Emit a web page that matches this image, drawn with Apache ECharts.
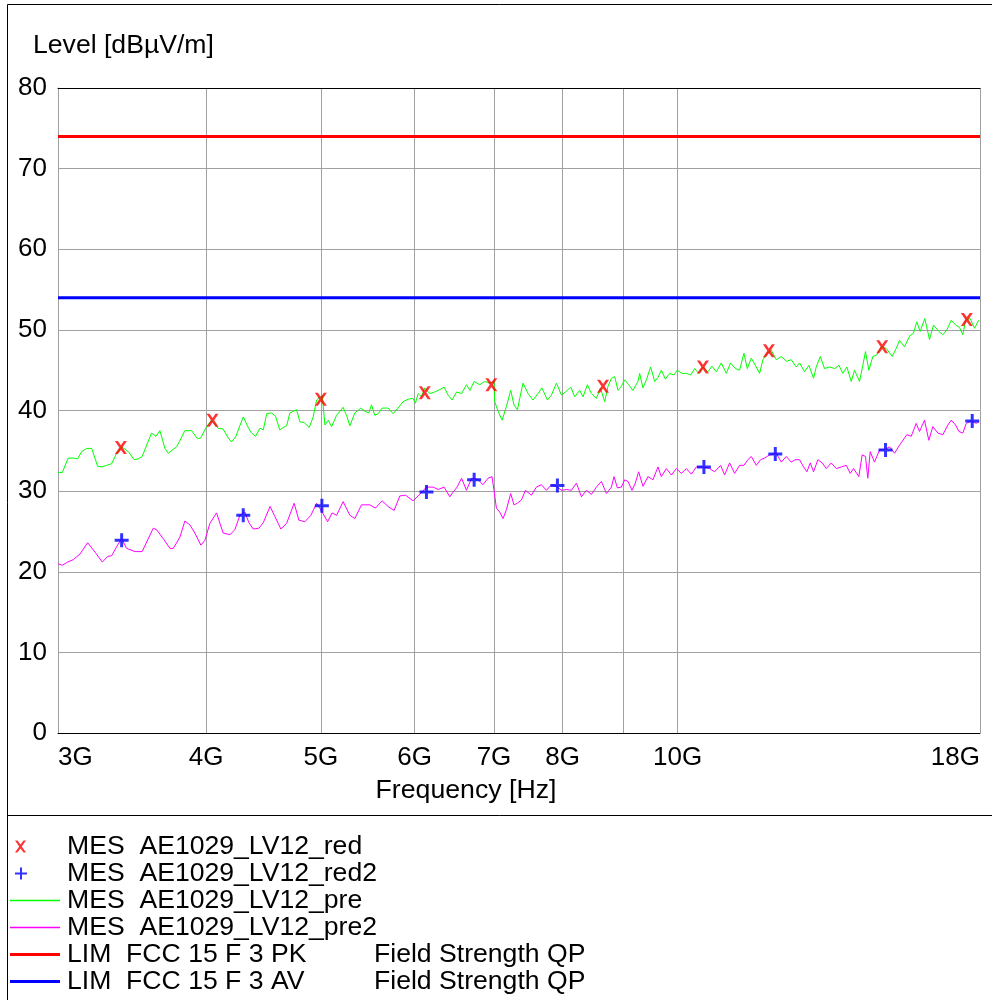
<!DOCTYPE html>
<html><head><meta charset="utf-8">
<script src="https://cdn.jsdelivr.net/npm/echarts@6/dist/echarts.min.js"></script>
<style>html,body{margin:0;padding:0;background:#fff}#c{width:992px;height:1000px}</style>
</head><body><div id="c"></div>
<script>
// ---- data (frequency in GHz, level in dBµV/m) ----
const seriesNames = ['MES  AE1029_LV12_red', 'MES  AE1029_LV12_red2', 'MES  AE1029_LV12_pre', 'MES  AE1029_LV12_pre2', 'LIM  FCC 15 F 3 PK', 'LIM  FCC 15 F 3 AV'];
const limitNote = 'Field Strength QP';
const xTickValues = [3, 4, 5, 6, 7, 8, 9, 10, 18];
const xLabelValues = [3, 4, 5, 6, 7, 8, 10, 18];
const yTickStep = 10;

const redFreq  = [3.39, 4.051, 5.00, 6.119, 6.964, 8.652, 10.506, 11.943, 14.885, 17.545];
const redLevel = [35.4, 38.8, 41.4, 42.2, 43.2, 43.0, 45.4, 47.4, 47.9, 51.3];

const blueFreq  = [3.395, 4.300, 5.01, 6.139, 6.735, 7.918, 10.526, 12.092, 14.981, 17.730];
const blueLevel = [23.9, 27.0, 28.2, 29.9, 31.4, 30.7, 33.0, 34.6, 35.1, 38.7];

const greenFreq = [3.00,3.025,3.06,3.09,3.117,3.141,3.172,3.203,3.240,3.266,3.298,3.330,3.362,3.395,3.439,3.479,3.506,3.533,3.598,3.629,3.657,3.693,3.716,3.778,3.839,3.889,3.935,3.960,4.004,4.043,4.095,4.135,4.176,4.203,4.236,4.300,4.342,4.370,4.404,4.442,4.471,4.500,4.543,4.578,4.617,4.647,4.678,4.708,4.770,4.800,4.840,4.888,4.926,4.959,5.013,5.040,5.072,5.105,5.155,5.221,5.256,5.290,5.341,5.404,5.446,5.488,5.517,5.553,5.589,5.632,5.698,5.754,5.810,5.867,5.924,5.981,6.009,6.040,6.080,6.119,6.179,6.239,6.300,6.353,6.403,6.454,6.509,6.573,6.635,6.680,6.735,6.809,6.875,6.942,7.000,7.009,7.065,7.111,7.171,7.231,7.277,7.326,7.359,7.406,7.479,7.552,7.625,7.684,7.766,7.826,7.903,7.981,8.042,8.126,8.189,8.269,8.322,8.393,8.459,8.541,8.608,8.680,8.736,8.794,8.850,8.907,8.966,9.024,9.094,9.170,9.260,9.290,9.350,9.412,9.491,9.565,9.627,9.690,9.766,9.848,9.930,9.996,10.086,10.173,10.259,10.339,10.419,10.506,10.608,10.691,10.783,10.888,10.994,11.086,11.188,11.282,11.377,11.452,11.541,11.654,11.729,11.804,11.906,11.998,12.115,12.234,12.353,12.473,12.595,12.676,12.800,12.907,13.025,13.093,13.197,13.306,13.437,13.568,13.683,13.789,13.896,14.015,14.105,14.242,14.334,14.409,14.503,14.616,14.730,14.856,15.001,15.177,15.296,15.394,15.543,15.695,15.817,15.919,16.024,16.169,16.318,16.445,16.617,16.747,16.878,17.022,17.166,17.298,17.410,17.501,17.661,17.808,17.957];
const greenLevel = [32.3,32.3,34.1,34.1,34.0,34.9,35.3,35.3,33.1,33.0,33.2,33.4,34.7,35.5,34.9,33.9,34.0,34.3,37.2,36.8,37.5,35.3,34.7,35.5,37.5,37.5,36.5,36.6,38.0,38.8,37.8,37.7,36.6,36.1,36.7,39.2,37.9,37.2,36.8,37.8,37.6,39.6,39.7,39.3,37.6,37.9,38.1,39.7,40.1,38.6,38.5,37.9,39.2,41.3,41.9,38.2,38.8,38.0,39.4,40.4,39.4,38.1,39.7,40.3,39.9,39.7,40.7,39.4,39.6,40.3,40.3,39.6,40.3,41.1,41.4,41.5,40.9,42.1,41.7,42.8,42.1,42.3,42.6,42.9,41.9,41.3,42.3,42.1,43.2,42.5,43.6,43.2,43.6,43.4,43.6,41.1,39.7,38.8,40.5,42.5,40.7,40.1,41.5,43.4,42.1,41.3,42.1,42.8,41.3,41.9,43.4,41.9,42.3,42.9,41.7,42.5,41.7,43.2,42.1,41.5,42.8,41.1,43.0,44.0,44.2,42.5,43.0,43.8,43.2,42.5,43.6,44.6,42.8,43.8,45.4,43.6,44.1,45.0,43.9,44.6,44.4,45.0,44.6,44.6,44.4,45.2,44.6,45.4,44.8,45.5,44.8,45.9,44.6,45.9,45.2,45.0,47.1,45.2,46.5,45.4,44.6,46.3,47.1,47.5,46.3,46.7,46.1,46.3,45.4,45.9,44.8,45.6,44.0,45.4,46.7,45.2,45.4,45.2,45.6,44.6,45.4,43.6,45.0,43.6,45.6,47.3,45.0,46.7,46.9,47.9,47.7,46.7,47.7,48.7,47.9,49.2,49.6,51.0,49.8,51.4,48.8,50.6,49.8,49.4,50.0,51.2,50.6,50.3,49.4,51.2,51.4,50.2,51.2];

const magentaFreq = [3.00,3.025,3.057,3.090,3.131,3.178,3.225,3.270,3.304,3.330,3.362,3.395,3.428,3.484,3.533,3.610,3.634,3.681,3.729,3.754,3.802,3.839,3.877,3.914,3.960,3.991,4.030,4.083,4.135,4.190,4.230,4.272,4.314,4.347,4.384,4.433,4.471,4.530,4.568,4.626,4.678,4.747,4.791,4.847,4.904,4.959,5.013,5.066,5.111,5.155,5.221,5.290,5.341,5.411,5.499,5.560,5.632,5.698,5.765,5.829,5.894,5.981,6.060,6.139,6.219,6.280,6.353,6.424,6.466,6.509,6.573,6.635,6.702,6.787,6.852,6.919,6.973,7.000,7.033,7.078,7.125,7.171,7.231,7.277,7.326,7.383,7.441,7.528,7.601,7.675,7.750,7.826,7.903,7.981,8.059,8.137,8.216,8.296,8.377,8.459,8.541,8.625,8.709,8.794,8.839,8.897,8.966,9.024,9.082,9.153,9.213,9.272,9.350,9.441,9.533,9.627,9.690,9.785,9.881,9.977,10.074,10.173,10.272,10.372,10.506,10.643,10.747,10.873,10.958,11.065,11.173,11.282,11.377,11.466,11.541,11.654,11.752,11.843,11.959,12.115,12.234,12.353,12.473,12.570,12.676,12.775,12.858,12.942,13.025,13.136,13.248,13.351,13.481,13.613,13.746,13.880,13.988,14.078,14.223,14.317,14.409,14.474,14.541,14.664,14.807,14.981,15.098,15.246,15.394,15.614,15.748,15.901,16.004,16.160,16.296,16.423,16.584,16.747,16.911,17.022,17.166,17.276,17.410,17.525,17.695,17.868,17.957];
const magentaLevel = [21.0,20.8,21.2,21.5,22.2,23.6,22.4,21.2,21.9,22.0,23.1,24.1,22.9,22.5,22.5,25.4,25.2,24.1,22.9,22.9,24.3,26.3,25.8,24.8,23.3,23.9,26.0,27.3,24.8,24.6,25.2,27.0,27.4,26.1,25.3,25.4,26.1,28.1,27.0,25.3,26.0,28.5,26.4,26.2,27.0,28.5,27.4,26.2,27.3,27.0,28.7,27.0,26.6,28.3,28.3,27.9,28.8,28.1,27.6,29.4,29.5,28.8,29.6,30.5,30.5,30.2,30.5,29.3,29.9,30.4,31.6,30.1,31.6,31.4,30.8,31.6,31.8,30.1,27.9,27.4,26.6,27.7,29.7,28.3,28.5,28.9,30.1,29.5,30.5,30.8,30.1,30.8,30.6,30.1,30.2,30.1,31.0,29.3,30.1,29.6,30.5,31.2,29.7,30.5,31.8,30.4,30.5,31.4,31.2,30.1,31.0,32.4,30.6,31.8,31.4,33.0,31.8,32.8,32.0,32.8,32.2,32.8,32.1,33.0,33.0,32.8,32.4,33.2,32.0,33.5,32.2,33.2,33.2,33.9,34.3,33.2,33.9,34.1,34.5,34.7,33.6,34.3,33.6,33.9,33.9,33.0,32.4,33.5,32.4,33.9,33.5,32.8,33.5,32.8,33.0,33.2,32.2,32.8,31.8,34.5,34.3,31.6,34.9,33.6,35.1,35.2,35.5,34.7,35.7,37.0,36.8,38.4,37.4,38.8,36.3,38.0,37.2,37.0,38.2,38.8,38.2,37.4,37.2,38.4,38.7,38.4,38.6];

const limitFreq = [3, 18];
const pkLevel = [74, 74];
const avLevel = [54, 54];

// ---- helpers ----
const zip = (xs, ys) => xs.map((x, i) => [x, ys[i]]);
const FONT = '"Liberation Sans", Arial, Helvetica, sans-serif';
const GRID = '#a0a0a0';

const xSym = 'path://M0,0 L3,0 L6,4.2 L9,0 L12,0 L7.6,6.5 L12,13 L9,13 L6,8.8 L3,13 L0,13 L4.4,6.5 Z';
const plusSym = 'path://M0,5.5 L14,5.5 L14,8.5 L0,8.5 Z M5.5,0 L8.5,0 L8.5,14 L5.5,14 Z';
const xLegendIcon = 'path://M0,0 L0,0 Z M50,14 L50,14 Z M5,1 L7.5,1 L10.5,5 L13.5,1 L16,1 L11.8,7 L16,13 L13.5,13 L10.5,9 L7.5,13 L5,13 L9.2,7 Z';
const plusLegendIcon = 'path://M0,0 L0,0 Z M50,14 L50,14 Z M5,6 L17,6 L17,8 L5,8 Z M10,1 L12,1 L12,13 L10,13 Z';
const thinLineIcon = 'path://M0,0 L50,0 L50,1.4 L0,1.4 Z';
const thickLineIcon = 'path://M0,0 L50,0 L50,3 L0,3 Z';

const LEG_FS = 26.6;
const chart = echarts.init(document.getElementById('c'), null, {renderer: 'canvas'});
chart.setOption({
  animation: false,
  backgroundColor: '#fff',
  textStyle: {fontFamily: FONT},
  title: {
    text: 'Level [dBµV/m]', left: 33, top: 32, padding: 0,
    textStyle: {fontFamily: FONT, fontSize: 26.6, fontWeight: 'normal', color: '#000'}
  },
  grid: {left: 58, top: 88, width: 922, height: 645, containLabel: false},
  xAxis: [{
    type: 'log', logBase: 10, min: 3, max: 18,
    name: 'Frequency [Hz]', nameLocation: 'middle', nameGap: 44,
    nameTextStyle: {fontFamily: FONT, fontSize: 26.7, color: '#000', padding: [0, 106, 0, 0]},
    axisLine: {show: true, lineStyle: {color: '#000', width: 1}},
    axisTick: {show: false, customValues: xTickValues},
    axisLabel: {
      customValues: xLabelValues, formatter: v => Math.round(v) + 'G',
      fontFamily: FONT, fontSize: 26, color: '#000', margin: 12,
      showMinLabel: true, showMaxLabel: true, alignMinLabel: 'left', alignMaxLabel: 'right'
    },
    splitLine: {show: true, lineStyle: {color: GRID, width: 1}},
    minorTick: {show: false}, minorSplitLine: {show: false}
  }, {
    type: 'log', logBase: 10, min: 3, max: 18, position: 'top',
    axisLine: {show: true, lineStyle: {color: '#000', width: 1}},
    axisTick: {show: false}, axisLabel: {show: false}, splitLine: {show: false}
  }],
  yAxis: {
    type: 'value', min: 0, max: 80, interval: yTickStep,
    axisLine: {show: true, lineStyle: {color: GRID}},
    axisTick: {show: false},
    axisLabel: {fontFamily: FONT, fontSize: 26, color: '#000', margin: 11},
    splitLine: {show: true, lineStyle: {color: GRID, width: 1}}
  },
  legend: {
    orient: 'vertical', left: 10, top: 833, padding: 0, itemGap: 0,
    itemWidth: 50, itemHeight: 14, selectedMode: false,
    textStyle: {
      fontFamily: FONT, fontSize: LEG_FS, color: '#000', padding: [0, 0, 0, 2],
      rich: {a: {fontFamily: FONT, fontSize: LEG_FS, color: '#000', width: 307}, b: {fontFamily: FONT, fontSize: LEG_FS, color: '#000'}}
    },
    formatter: name => name.startsWith('LIM') ? '{a|' + name + '}{b|' + limitNote + '}' : name,
    data: [
      {name: seriesNames[0], icon: xLegendIcon},
      {name: seriesNames[1], icon: plusLegendIcon},
      {name: seriesNames[2], icon: thinLineIcon, itemStyle: {color: '#00ff00'}},
      {name: seriesNames[3], icon: thinLineIcon, itemStyle: {color: '#ff00ff'}},
      {name: seriesNames[4], icon: thickLineIcon},
      {name: seriesNames[5], icon: thickLineIcon}
    ]
  },
  series: [
    {name: seriesNames[0], type: 'scatter', data: zip(redFreq, redLevel), symbol: xSym, symbolSize: [12, 13],
     itemStyle: {color: '#ff0000'}, z: 10},
    {name: seriesNames[1], type: 'scatter', data: zip(blueFreq, blueLevel), symbol: plusSym, symbolSize: 14,
     itemStyle: {color: '#0000ff'}, z: 10},
    {name: seriesNames[2], type: 'line', data: zip(greenFreq, greenLevel), showSymbol: false, symbol: 'none',
     lineStyle: {color: '#00ff00', width: 1}, itemStyle: {color: '#00ff00'}, z: 3},
    {name: seriesNames[3], type: 'line', data: zip(magentaFreq, magentaLevel), showSymbol: false, symbol: 'none',
     lineStyle: {color: '#ff00ff', width: 1}, itemStyle: {color: '#ff00ff'}, z: 3},
    {name: seriesNames[4], type: 'line', data: zip(limitFreq, pkLevel), showSymbol: false, symbol: 'none',
     lineStyle: {color: '#ff0000', width: 3}, itemStyle: {color: '#ff0000'}, z: 4},
    {name: seriesNames[5], type: 'line', data: zip(limitFreq, avLevel), showSymbol: false, symbol: 'none',
     lineStyle: {color: '#0000ff', width: 3}, itemStyle: {color: '#0000ff'}, z: 4}
  ],
  graphic: [
    {type: 'line', shape: {x1: 7.5, y1: 4.5, x2: 992, y2: 4.5}, style: {stroke: '#000', lineWidth: 1}, silent: true},
    {type: 'line', shape: {x1: 7.5, y1: 4.5, x2: 7.5, y2: 1000}, style: {stroke: '#000', lineWidth: 1}, silent: true},
    {type: 'line', shape: {x1: 7.5, y1: 815.5, x2: 992, y2: 815.5}, style: {stroke: '#000', lineWidth: 1}, silent: true}
  ]
});
</script>
</body></html>
